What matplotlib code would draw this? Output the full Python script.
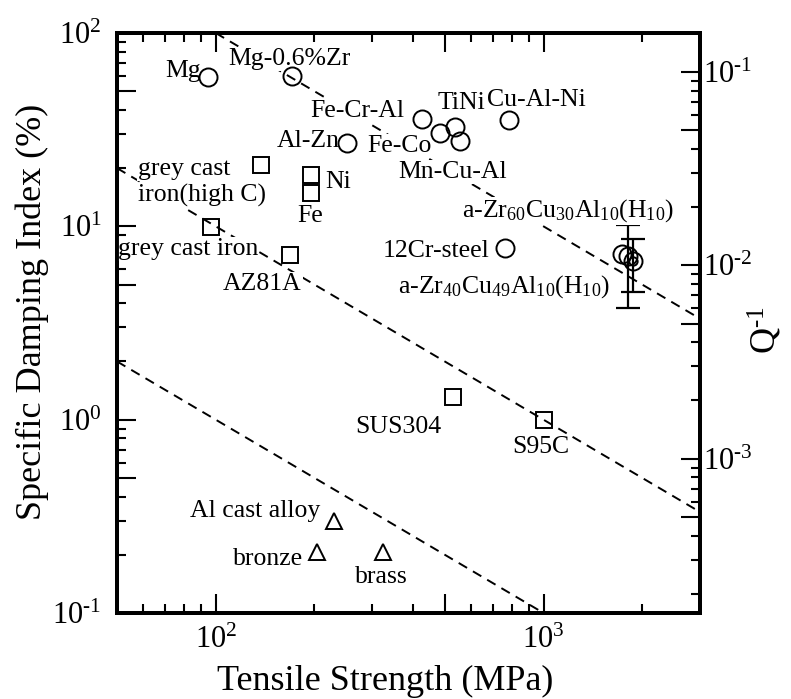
import numpy as np
import matplotlib
matplotlib.use("Agg")
import matplotlib.pyplot as plt
from matplotlib.ticker import LogLocator, FuncFormatter, NullFormatter

plt.rcParams['font.family'] = ['Liberation Serif', 'DejaVu Serif']
plt.rcParams['mathtext.fontset'] = 'custom'
plt.rcParams['mathtext.rm'] = 'Liberation Serif'
plt.rcParams['mathtext.it'] = 'Liberation Serif:italic'
plt.rcParams['mathtext.bf'] = 'Liberation Serif:bold'

# ---------------- data ----------------
circle_x = [95, 171, 426, 252, 483, 537, 556, 787, 764, 1734, 1811, 1875]
circle_y = [59, 60, 35.9, 27, 30.4, 32.6, 27.6, 35.5, 7.7, 7.2, 7.0, 6.6]

square_x = [137, 195, 195, 97, 168, 530, 1000]
square_y = [20.8, 18.4, 14.9, 9.9, 7.1, 1.31, 1.0]

triangle_x = [230, 203, 323]
triangle_y = [0.30, 0.206, 0.206]

# glassy alloys with error bars
err_x = [1811, 1875]
err_y = [7.0, 6.6]
err_e = [3.2, 2.0]

# iso-performance dashed lines (endpoints)
line_x = [[50, 1000], [50, 3000], [100, 3000]]
line_y = [[2.0, 0.1], [20.0, 0.333], [100.0, 3.33]]

# labels: text, left pixel x, baseline pixel y
labels = [
    ("Mg", 165, 77),
    ("Mg-0.6%Zr", 228, 65),
    ("Fe-Cr-Al", 310, 117),
    ("TiNi", 438, 109),
    ("Cu-Al-Ni", 487, 106),
    ("Al-Zn", 277, 147),
    ("Fe-Co", 367, 152),
    ("Mn-Cu-Al", 398, 178),
    ("grey cast", 138, 175),
    ("iron(high C)", 138, 202),
    ("Ni", 325, 188),
    ("Fe", 297, 222),
    ("grey cast iron", 118, 255),
    ("AZ81A", 223, 290),
    (r"a-Zr$_{\mathrm{60}}$Cu$_{\mathrm{30}}$Al$_{\mathrm{10}}$(H$_{\mathrm{10}}$)", 462, 217),
    ("12Cr-steel", 383, 257),
    (r"a-Zr$_{\mathrm{40}}$Cu$_{\mathrm{49}}$Al$_{\mathrm{10}}$(H$_{\mathrm{10}}$)", 398, 293),
    ("SUS304", 355, 433),
    ("S95C", 512, 453),
    ("Al cast alloy", 190, 517),
    ("bronze", 233, 565),
    ("brass", 355, 583),
]

W, H = 791, 699
AX_L, AX_R, AX_T, AX_B = 117, 700, 33, 613

fig = plt.figure(figsize=(W / 100, H / 100), dpi=100)
ax = fig.add_axes([AX_L / W, 1 - AX_B / H, (AX_R - AX_L) / W, (AX_B - AX_T) / H])
ax.set_xscale('log')
ax.set_yscale('log')
ax.set_xlim(50, 3000)
ax.set_ylim(0.1, 100)

dash = (0, (5, 3.5))
for lx, ly in zip(line_x, line_y):
    ax.plot(lx, ly, color='black', lw=1.4, linestyle=dash, zorder=2)

ms = dict(mfc='none', mec='black', mew=1.4, linestyle='none', zorder=4)
ax.plot(circle_x, circle_y, marker='o', ms=13, **ms)
ax.plot(square_x, square_y, marker='s', ms=12, **ms)
ax.plot(triangle_x, triangle_y, marker='^', ms=12, **ms)
ax.plot([err_x[1]], [err_y[1]], marker='o', ms=6, **ms)
ax.errorbar(err_x, err_y, yerr=err_e, fmt='none', ecolor='black',
            elinewidth=1.6, capsize=8.5, capthick=1.6, zorder=3)

for txt, px, py in labels:
    ax.text((px - AX_L) / (AX_R - AX_L), (AX_B - py) / (AX_B - AX_T), txt,
            transform=ax.transAxes, ha='left', va='baseline', fontsize=18.5,
            zorder=3, bbox=dict(facecolor='white', edgecolor='none', pad=0.5))

def pow_fmt(v, pos):
    e = np.log10(v)
    if abs(e - round(e)) < 1e-6:
        n = int(round(e))
        if n < 0:
            return r'$\mathrm{10^{\text{-}%d}}$' % (-n)
        return r'$\mathrm{10^{%d}}$' % n
    return ''

for axis in (ax.xaxis, ax.yaxis):
    axis.set_major_locator(LogLocator(base=10, subs=(1.0, 5.0)))
    axis.set_minor_locator(LogLocator(base=10, subs=(2, 3, 4, 6, 7, 8, 9)))
    axis.set_major_formatter(FuncFormatter(pow_fmt))
    axis.set_minor_formatter(NullFormatter())

ax.tick_params(which='both', direction='in', top=True, right=False, width=1.5,
               labelsize=22)
ax.tick_params(which='major', length=13.5)
ax.tick_params(which='minor', length=6.5)
ax.tick_params(axis='x', pad=9)
ax.tick_params(axis='y', pad=11)

for s in ax.spines.values():
    s.set_linewidth(2.8)

fig.text(385 / W, 1 - 681 / H, 'Tensile Strength (MPa)', fontsize=26,
         ha='center', va='center')
fig.text(32 / W, 1 - 312 / H, 'Specific Damping Index (%)', fontsize=26,
         ha='center', va='center', rotation=90)

ax2 = ax.twinx()
ax2.set_yscale('log')
ax2.set_ylim(0.1 / (200 * np.pi), 100 / (200 * np.pi))
ax2.yaxis.set_major_locator(LogLocator(base=10, subs=(1.0, 5.0)))
ax2.yaxis.set_minor_locator(LogLocator(base=10, subs=(2, 3, 4, 6, 7, 8, 9)))
ax2.yaxis.set_major_formatter(FuncFormatter(pow_fmt))
ax2.yaxis.set_minor_formatter(NullFormatter())
ax2.tick_params(which='both', direction='in', width=1.5, labelsize=22, pad=2)
ax2.tick_params(which='major', length=13.5)
ax2.tick_params(which='minor', length=6.5)
for s in ax2.spines.values():
    s.set_linewidth(2.8)

fig.text(765 / W, 1 - 330 / H, r'Q$^{\mathrm{\text{-}1}}$', fontsize=26,
         ha='center', va='center', rotation=90)

fig.savefig('out.png', dpi=100)
